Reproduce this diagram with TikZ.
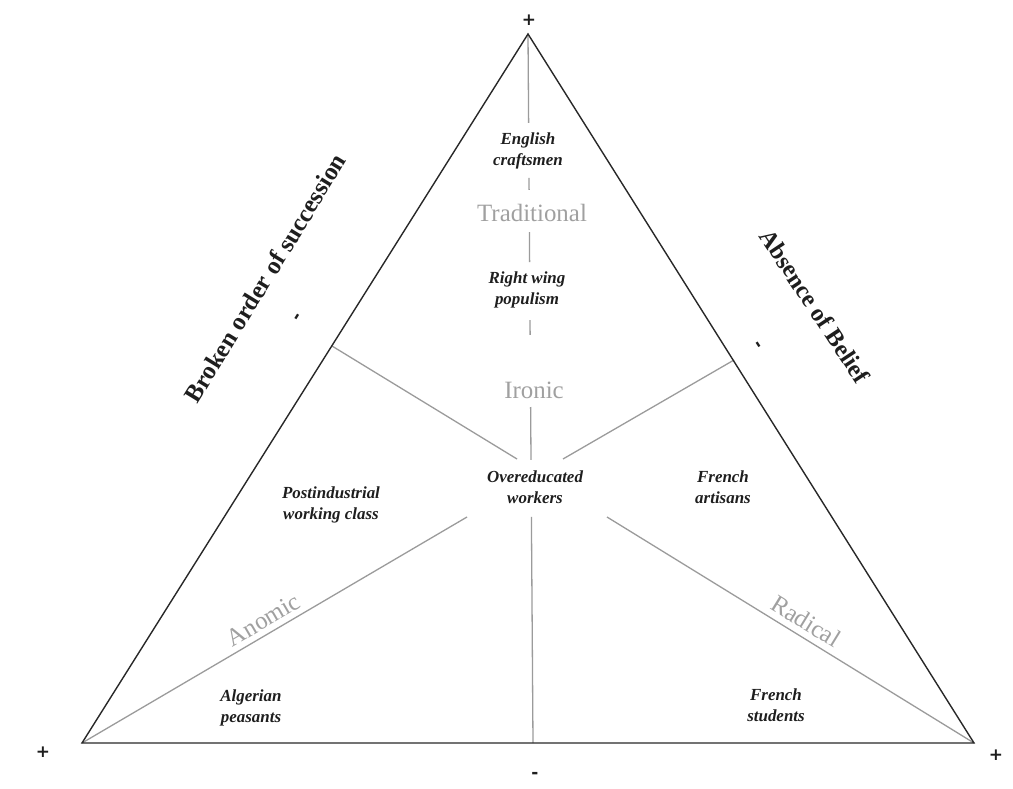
\documentclass[tikz,border=0pt]{standalone}
\usepackage{fontspec}
\setmainfont{Liberation Serif}
\newfontfamily\signfont{DejaVu Sans}
\usepackage{tikz}
\usetikzlibrary{calc}
\definecolor{rimdark}{RGB}{40,40,40}
\definecolor{spokegray}{RGB}{155,155,155}
\definecolor{typegray}{RGB}{160,160,160}
\definecolor{casetext}{RGB}{30,30,30}

\begin{document}
\begin{tikzpicture}[
        x=1bp, y=1bp,
        rim/.style={draw=rimdark, line width=1.4bp},
        spoke/.style={draw=spokegray, line width=1.3bp},
        case/.style={font=\fontsize{17}{21}\selectfont\bfseries\itshape, text=casetext, align=center},
        typelabel/.style={font=\fontsize{25}{30}\selectfont, text=typegray},
        axislabel/.style={font=\fontsize{25}{30}\selectfont\bfseries, text=casetext},
        sign/.style={font=\signfont\fontsize{17}{20}\selectfont\bfseries, text=casetext},
    ]
        \useasboundingbox (0,0) rectangle (1013,-789);

        % --- Corners and spoke ends ---
        \coordinate (top) at (528,-34);
        \coordinate (left) at (82,-743);
        \coordinate (right) at (974,-743);
        \coordinate (mid) at (533,-743);
        \coordinate (lside) at (332,-346);
        \coordinate (rside) at (734,-360);
        \coordinate (lin) at (517,-459);
        \coordinate (rin) at (563,-459);
        \coordinate (llow) at (467,-517);
        \coordinate (rlow) at (607,-517);

        % --- Spokes (vertical one broken by the labels) ---
        \foreach \a/\b in {0/0.1255, 0.2031/0.2200, 0.2793/0.3216, 0.4034/0.4245, 0.5261/0.6008, 0.6812/1}
            \draw[spoke] ($(top)!\a!(mid)$) -- ($(top)!\b!(mid)$);
        \draw[spoke] (lside) -- (lin);
        \draw[spoke] (rside) -- (rin);
        \draw[spoke] (left) -- node[typelabel, sloped, above=2bp, pos=0.49] (anomic) {Anomic} (llow);
        \draw[spoke] (rlow) -- node[typelabel, sloped, above=3bp, pos=0.52] (radical) {Radical} (right);

        % --- Triangle ---
        \draw[rim] (top) -- (left) -- (right) -- cycle;

        % --- Cases ---
        \node[case] (english) at (528,-151) {English\\craftsmen};
        \node[case] (rightwing) at (527,-290) {Right wing\\populism};
        \node[case] (overeducated) at (535,-487) {Overeducated\\workers};
        \node[case] (postindustrial) at (331,-505) {Postindustrial\\working class};
        \node[case] (artisans) at (723,-487) {French\\artisans};
        \node[case] (algerian) at (251,-708) {Algerian\\peasants};
        \node[case] (students) at (776,-705) {French\\students};

        % --- Ideal types ---
        \node[typelabel] (traditional) at (532,-213) {Traditional};
        \node[typelabel] (ironic) at (534,-390) {Ironic};

        % --- Axes and signs ---
        \node[axislabel, rotate=58.5] (broken) at (265,-278) {Broken order of succession};
        \node[axislabel, rotate=-56.5] (absence) at (815,-306) {\fontsize{24.5}{30}\selectfont Absence of Belief};
        \node[sign] (plustop) at (529,-20) {+};
        \node[sign] (plusleft) at (43,-752) {+};
        \node[sign] (plusright) at (996,-755) {+};
        \node[sign] (minusbottom) at (535,-775) {-};
        \node[sign, rotate=58] (minusleft) at (299,-318) {-};
        \node[sign, rotate=-57] (minusright) at (757,-346) {-};

    \end{tikzpicture}
\end{document}
